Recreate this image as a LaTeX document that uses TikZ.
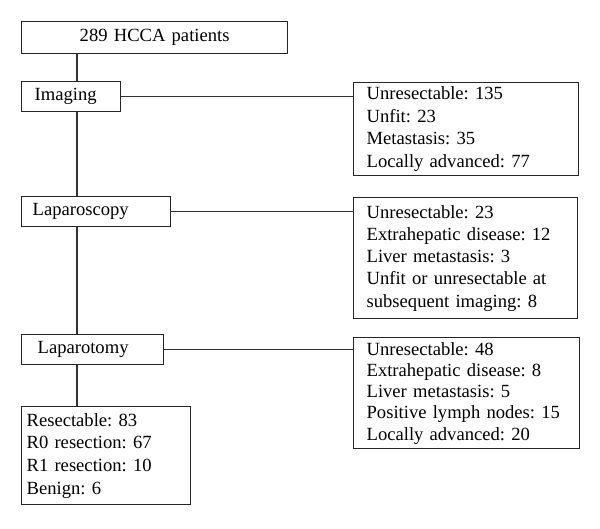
\documentclass[tikz,border=0pt]{standalone}
\usepackage{fontspec}
\setmainfont{Liberation Serif}
\begin{document}
\frenchspacing
\begin{tikzpicture}[x=1pt,y=-1pt,
  box/.style={draw=black!85,line width=1.3pt,anchor=north west,inner ysep=0pt,align=left,
    font=\fontsize{18.6}{22.7}\selectfont\frenchspacing},
  link/.style={draw=black!80,line width=1.3pt}]
\useasboundingbox (0,0) rectangle (600,528);
\node[box,align=center,inner xsep=0pt,text width=266pt,minimum height=32pt] (top) at (21,21) {289 HCCA patients};
\node[box,inner xsep=13pt,text width=73pt,minimum height=30pt] (img) at (21,81) {Imaging};
\node[box,inner xsep=11pt,text width=127pt,minimum height=30pt] (lsc) at (21,196) {Laparoscopy};
\node[box,inner xsep=16pt,text width=110pt,minimum height=30pt] (lto) at (21,334) {Laparotomy};
\node[box,inner xsep=5pt,text width=159pt,minimum height=98pt] (res) at (21,406)
  {Resectable: 83\\R0 resection: 67\\R1 resection: 10\\Benign: 6};
\node[box,inner xsep=13pt,text width=199pt,minimum height=93pt] (r1) at (353,82)
  {Unresectable: 135\\Unfit: 23\\Metastasis: 35\\Locally advanced: 77};
\node[box,inner xsep=13pt,text width=198pt,minimum height=121pt,font=\fontsize{18.6}{22.2}\selectfont\frenchspacing] (r2) at (353,197)
  {Unresectable: 23\\Extrahepatic disease: 12\\Liver metastasis: 3\\Unfit or unresectable at\\subsequent imaging: 8};
\node[box,inner xsep=13pt,text width=200pt,minimum height=111pt,font=\fontsize{18.6}{21.3}\selectfont\frenchspacing] (r3) at (353,337)
  {Unresectable: 48\\Extrahepatic disease: 8\\Liver metastasis: 5\\Positive lymph nodes: 15\\Locally advanced: 20};
\coordinate (spine) at (77,0);
\draw[link] (top.south -| spine) -- (img.north -| spine);
\draw[link] (img.south -| spine) -- (lsc.north -| spine);
\draw[link] (lsc.south -| spine) -- (lto.north -| spine);
\draw[link] (lto.south -| spine) -- (res.north -| spine);
\draw[link] (img.east) -- (r1.west |- img.east);
\draw[link] (lsc.east) -- (r2.west |- lsc.east);
\draw[link] (lto.east) -- (r3.west |- lto.east);
\end{tikzpicture}
\end{document}
